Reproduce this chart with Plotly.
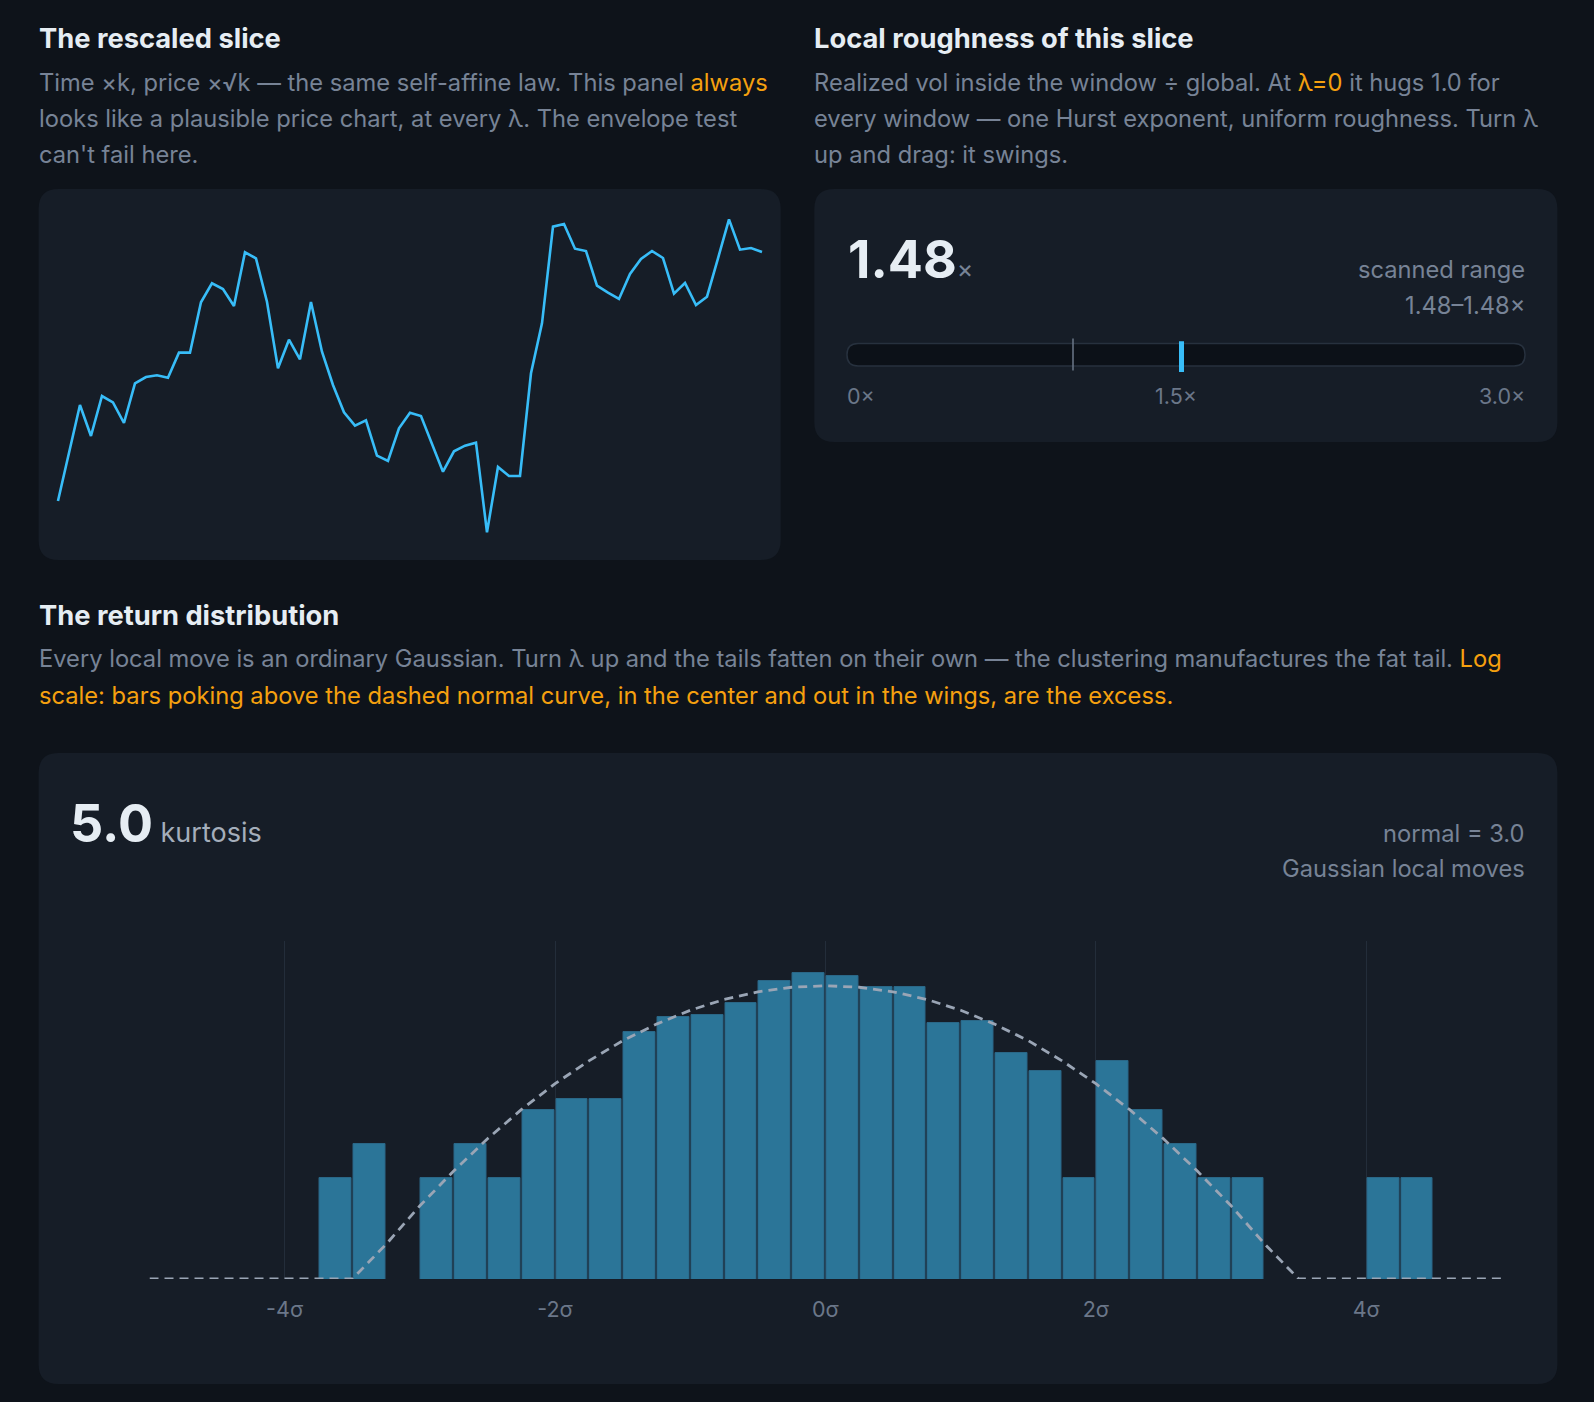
import plotly.graph_objects as go

W = 1594
H = 1402

bg = "#0e131a"
card = "#161d27"
title_col = "#e6edf3"
muted = "#778396"
amber = "#f5a00f"
blue = "#38bdf8"

# price path of the rescaled slice (one point per step)
slice_price = [105.6, 112.75, 120.0, 115.35, 121.35, 120.4, 117.3, 123.25, 124.2, 124.45,
               124.1, 127.85, 127.85, 135.4, 138.25, 137.4, 134.85, 142.9, 142.0, 135.5,
               125.5, 129.8, 126.85, 135.45, 128.0, 123.0, 118.9, 116.9, 117.7, 112.4,
               111.6, 116.5, 118.85, 118.35, 114.2, 110.0, 113.05, 113.9, 114.35, 100.9,
               110.7, 109.35, 109.35, 124.75, 132.25, 146.75, 147.15, 143.45, 143.1, 137.9,
               136.85, 135.9, 139.65, 141.9, 143.1, 142.05, 136.7, 138.3, 135.0, 136.25,
               142.0, 147.85, 143.3, 143.55, 142.95]
slice_steps = list(range(len(slice_price)))

# roughness gauge
roughness = 1.48
scan_lo = 1.48
scan_hi = 1.48
global_ref = 1.0
gauge_max = 3.0

# return histogram, bins of 0.25 sigma from -5 to 5
bin_centers = [-4.875 + 0.25 * i for i in range(40)]
bin_counts = [0, 0, 0, 0, 0, 1, 2, 0, 1, 2,
              1, 4, 5, 5, 20, 27, 28, 36, 56, 66,
              62, 50, 50, 24, 25, 13, 9, 1, 11, 4,
              2, 1, 1, 0, 0, 0, 1, 1, 0, 0]
kurtosis = 5.0
normal_kurtosis = 3.0

# dashed normal reference (expected count per bin, floored at the axis bottom)
curve_x = [-5.0, -4.5, -4.0, -3.75, -3.5, -3.25, -3.0, -2.75, -2.5, -2.25, -2.0, -1.75, -1.5,
           -1.25, -1.0, -0.75, -0.5, -0.25, 0.0, 0.25, 0.5, 0.75, 1.0, 1.25, 1.5, 1.75,
           2.0, 2.25, 2.5, 2.75, 3.0, 3.25, 3.5, 3.75, 4.0, 4.5, 5.0]
curve_y = [0.128, 0.128, 0.128, 0.128, 0.128, 0.26, 0.57, 1.16, 2.24, 4.06, 6.9, 11.0, 16.6,
           23.3, 30.9, 38.5, 45.0, 49.4, 51.0, 49.4, 45.0, 38.5, 30.9, 23.3, 16.6, 11.0,
           6.9, 4.06, 2.24, 1.16, 0.57, 0.26, 0.128, 0.128, 0.128, 0.128, 0.128]

sigma_ticks = [-4, -2, 0, 2, 4]
sigma_labels = ["-4σ", "-2σ", "0σ", "2σ", "4σ"]


def px(x):
    return x / W


def py(y):
    return 1 - y / H


def rounded(x0, y0, x1, y1, r):
    a, b, c, d = px(x0), py(y1), px(x1), py(y0)
    rx, ry = r / W, r / H
    return (f"M{a+rx},{b} L{c-rx},{b} Q{c},{b} {c},{b+ry} L{c},{d-ry} Q{c},{d} {c-rx},{d} "
            f"L{a+rx},{d} Q{a},{d} {a},{d-ry} L{a},{b+ry} Q{a},{b} {a+rx},{b} Z")


fig = go.Figure()

fig.add_trace(go.Scatter(
    x=slice_steps, y=slice_price, mode="lines",
    line=dict(color=blue, width=2.6),
    xaxis="x", yaxis="y", hoverinfo="skip"
))

fig.add_trace(go.Bar(
    x=bin_centers, y=[c if c > 0 else None for c in bin_counts],
    width=0.235,
    marker=dict(color="#2b7598", line=dict(color="#2a6787", width=1)),
    xaxis="x2", yaxis="y2", hoverinfo="skip"
))

fig.add_trace(go.Scatter(
    x=curve_x, y=curve_y, mode="lines",
    line=dict(color="#9aa5b5", width=2.8, dash="9px,6px"),
    xaxis="x2", yaxis="y2", hoverinfo="skip"
))

shapes = [
    dict(type="path", path=rounded(38.6, 189, 780.7, 560, 20), xref="paper", yref="paper",
         fillcolor=card, line=dict(width=0), layer="below"),
    dict(type="path", path=rounded(814.3, 189, 1557.4, 442, 20), xref="paper", yref="paper",
         fillcolor=card, line=dict(width=0), layer="below"),
    dict(type="path", path=rounded(38.6, 753, 1557.4, 1384, 20), xref="paper", yref="paper",
         fillcolor=card, line=dict(width=0), layer="below"),
    # gauge track
    dict(type="path", path=rounded(847, 343.5, 1525, 366, 11), xref="paper", yref="paper",
         fillcolor="#0c1118", line=dict(color="#27313e", width=1.5)),
    # global reference tick
    dict(type="line", xref="x3", yref="paper", x0=global_ref, x1=global_ref,
         y0=py(370.5), y1=py(338.5), line=dict(color="#6b7789", width=1.5)),
    # scanned range + current value
    dict(type="line", xref="x3", yref="paper", x0=scan_lo, x1=scan_hi,
         y0=py(372), y1=py(341.5), line=dict(color=blue, width=5)),
    dict(type="line", xref="x3", yref="paper", x0=roughness, x1=roughness,
         y0=py(372), y1=py(341.5), line=dict(color=blue, width=5)),
]

F = "Inter, Noto Sans, sans-serif"
DS = 23.7  # body text size
TS = 27.3  # section titles
L0 = 36.6
L1 = 812.3
R0 = 1527


def txt(x, y, s, size, color, anchor="left", bold=False):
    return dict(x=px(x), y=py(y), xref="paper", yref="paper", text=(f"<b>{s}</b>" if bold else s),
                showarrow=False, xanchor=anchor, yanchor="middle",
                font=dict(family=F, size=size, color=color))


def amb(s):
    return f'<span style="color:{amber}">{s}</span>'


ann = [
    txt(L0, 39, "The rescaled slice", TS, title_col, bold=True),
    txt(L0, 82.5, "Time ×k, price ×√k — the same self-affine law. This panel " + amb("always"), DS, muted),
    txt(L0, 119, "looks like a plausible price chart, at every λ. The envelope test", DS, muted),
    txt(L0, 154.5, "can't fail here.", DS, muted),
    txt(L1, 39, "Local roughness of this slice", TS, title_col, bold=True),
    txt(L1, 82.5, "Realized vol inside the window ÷ global. At " + amb("λ=0") + " it hugs 1.0 for", DS, muted),
    txt(L1, 119, "every window — one Hurst exponent, uniform roughness. Turn λ", DS, muted),
    txt(L1, 154.5, "up and drag: it swings.", DS, muted),
    txt(846, 260, f"<b>{roughness:.2f}</b>" + f'<span style="font-size:25px;color:{muted}">×</span>', 52, title_col),
    txt(R0, 269.5, "scanned range", DS, muted, "right"),
    txt(R0, 305, f"{scan_lo:.2f}–{scan_hi:.2f}×", DS, muted, "right"),
    txt(845, 396, "0×", 21.5, "#6b7789"),
    txt(1175.5, 396, f"{gauge_max / 2:.1f}×", 21.5, "#6b7789", "center"),
    txt(R0, 396, f"{gauge_max:.1f}×", 21.5, "#6b7789", "right"),
    txt(L0, 615, "The return distribution", TS, title_col, bold=True),
    txt(L0, 659, "Every local move is an ordinary Gaussian. Turn λ up and the tails fatten on their own — "
                 "the clustering manufactures the fat tail. " + amb("Log"), DS, muted),
    txt(L0, 695.5, amb("scale: bars poking above the dashed normal curve, in the center and out in the wings, are the excess."), DS, muted),
    txt(68, 823, f"<b>{kurtosis:.1f}</b>" + f'<span style="font-size:27px;color:#a4aebb"> kurtosis</span>', 52, title_col),
    txt(R0, 833, f"normal = {normal_kurtosis:.1f}", DS, muted, "right"),
    txt(R0, 868.5, "Gaussian local moves", DS, muted, "right"),
]

fig.update_layout(
    width=W, height=H,
    margin=dict(l=0, r=0, t=0, b=0),
    paper_bgcolor=bg, plot_bgcolor="rgba(0,0,0,0)",
    showlegend=False,
    bargap=0,
    shapes=shapes,
    annotations=ann,
    xaxis=dict(domain=[px(38.6), px(780.7)], range=[-1.76, 65.7], visible=False, fixedrange=True),
    yaxis=dict(domain=[py(560), py(189)], range=[96.75, 152.4], visible=False, fixedrange=True),
    xaxis2=dict(domain=[px(149.5), px(1501.5)], range=[-5, 5], anchor="y2",
                tickvals=sigma_ticks, ticktext=sigma_labels, showgrid=True, gridcolor="#232d3a",
                gridwidth=1, zeroline=False, showline=False, ticks="",
                ticklabelstandoff=15,
                tickfont=dict(family=F, size=21.5, color="#6b7789")),
    yaxis2=dict(domain=[py(1279), py(941)], type="log", anchor="x2",
                range=[-0.893, 2.104], visible=False),
    xaxis3=dict(domain=[px(847), px(1525)], range=[0, gauge_max], visible=False, anchor="y3"),
    yaxis3=dict(domain=[py(366), py(343.5)], range=[0, 1], visible=False, anchor="x3"),
)

fig.write_html("out.html", config={"displayModeBar": False},
               post_script="document.body.style.margin='0';document.body.style.background='%s';" % bg)
